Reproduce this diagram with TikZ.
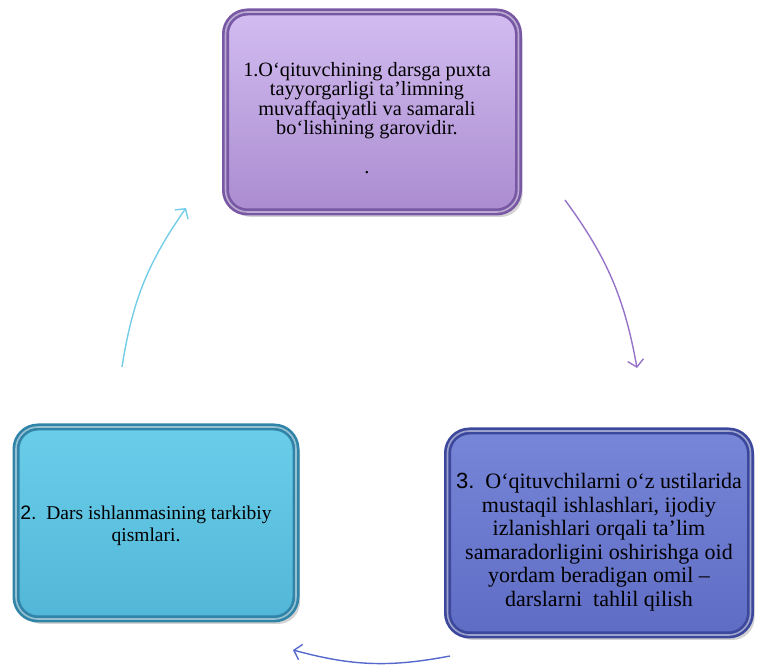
\documentclass[tikz,border=0pt]{standalone}
\usepackage{fontspec}
\setmainfont{Liberation Serif}
\newfontfamily\digitfont{Liberation Sans}
\usetikzlibrary{arrows.meta,shadows}
\definecolor{lilactop}{RGB}{210,188,240}
\definecolor{lilaclow}{RGB}{170,140,208}
\definecolor{lilacedge}{RGB}{120,88,165}
\definecolor{lilacline}{RGB}{150,115,200}
\definecolor{skytop}{RGB}{106,206,234}
\definecolor{skylow}{RGB}{82,182,216}
\definecolor{skyedge}{RGB}{48,132,168}
\definecolor{skyline}{RGB}{115,205,232}
\definecolor{navytop}{RGB}{120,134,216}
\definecolor{navylow}{RGB}{94,108,196}
\definecolor{navyedge}{RGB}{60,72,156}
\definecolor{navyline}{RGB}{85,105,205}

\tikzset{
  stagebox/.style={rounded corners=22pt, draw=#1edge, line width=7pt,
    top color=#1top, bottom color=#1low,
    drop shadow={shadow xshift=4pt,shadow yshift=-5pt,opacity=0.35},
    postaction={draw=white,line width=1.6pt,draw opacity=0.5},
    inner sep=0pt},
  stagetext/.style={align=center, inner sep=0pt, text=black},
  turnarrow/.style={-{Straight Barb[length=7pt,width=16pt]}, line width=1.4pt, draw=#1line}
}

\begin{document}
\begin{tikzpicture}[x=1pt,y=1pt]
  \useasboundingbox (0,0) rectangle (757,666);

  \node[stagebox=lilac, minimum width=293pt, minimum height=200pt] (plan) at (372,554) {};
  \node[stagebox=sky, minimum width=280pt, minimum height=192pt] (parts) at (156,143) {};
  \node[stagebox=navy, minimum width=303pt, minimum height=204pt] (review) at (599,133) {};

  \node[stagetext, font=\fontsize{20.3}{19.5}\selectfont] (plantext) at ([xshift=-5pt,yshift=-6pt]plan.center)
    {1.O‘qituvchining darsga puxta\\tayyorgarligi ta’limning\\muvaffaqiyatli va samarali\\bo‘lishining garovidir.\\[19.5pt].};
  \node[stagetext, font=\fontsize{19.5}{22}\selectfont] (partstext) at ([xshift=-10pt,yshift=-3pt]parts.center)
    {{\digitfont 2.}\ \ Dars ishlanmasining tarkibiy\\qismlari.};
  \node[stagetext, font=\fontsize{22}{23.5}\selectfont] (reviewtext) at ([yshift=-9pt]review.center)
    {{\digitfont 3.}\ \ O‘qituvchilarni o‘z ustilarida\\mustaqil ishlashlari, ijodiy\\izlanishlari orqali ta’lim\\samaradorligini oshirishga oid\\yordam beradigan omil –\\darslarni\ \ tahlil qilish};

  \coordinate (planout) at (565,466);
  \coordinate (reviewin) at (637,298);
  \coordinate (reviewout) at (450,10);
  \coordinate (partsin) at (293,16);
  \coordinate (partsout) at (122,299);
  \coordinate (planin) at (186,458);

  \draw[turnarrow=lilac] (planout) to[bend left=13] (reviewin);
  \draw[turnarrow=navy] (reviewout) to[bend left=13] (partsin);
  \draw[turnarrow=sky] (partsout) to[bend left=13] (planin);
\end{tikzpicture}
\end{document}
